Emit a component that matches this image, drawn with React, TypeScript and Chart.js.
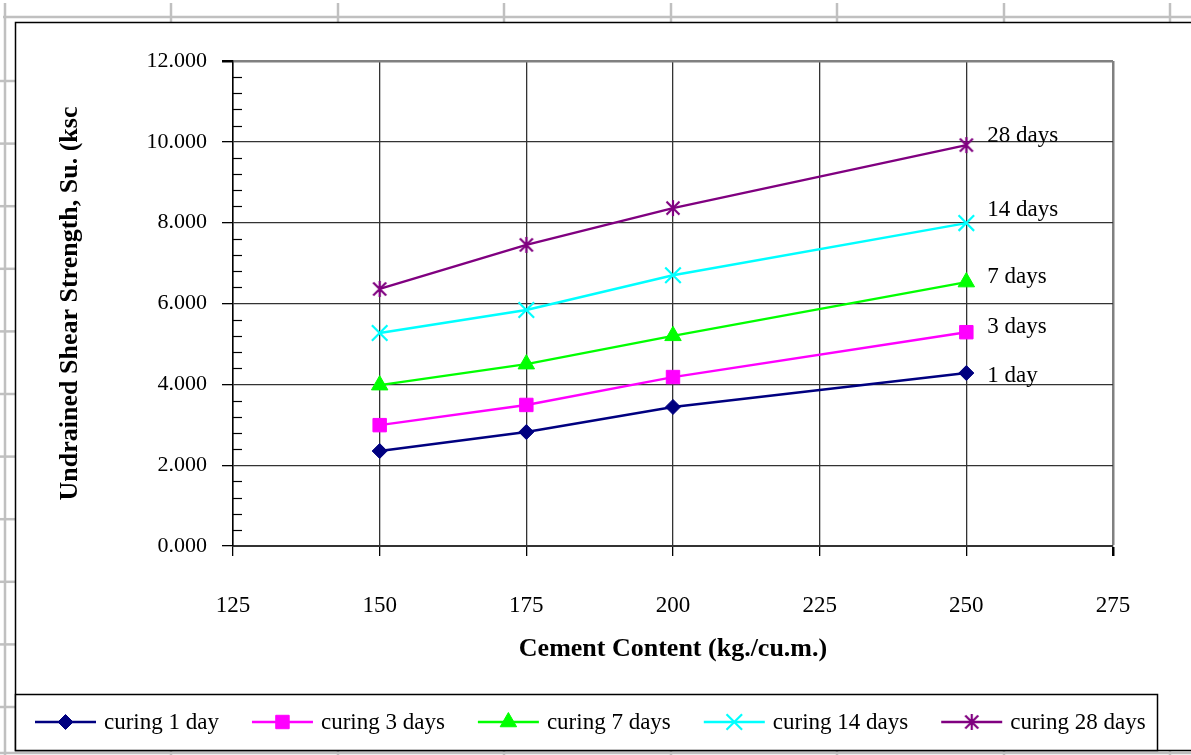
import React, { useEffect, useRef } from 'react';
import { Chart, registerables } from 'chart.js';
import { drawPoint } from 'chart.js/helpers';

Chart.register(...registerables);

// ---- data ----
const cementContent = [150, 175, 200, 250];
const curing1Day = [2.35, 2.82, 3.44, 4.28];
const curing3Days = [2.99, 3.49, 4.18, 5.29];
const curing7Days = [3.98, 4.5, 5.2, 6.53];
const curing14Days = [5.27, 5.84, 6.7, 7.99];
const curing28Days = [6.36, 7.45, 8.36, 9.92];
const seriesNames = ['curing 1 day', 'curing 3 days', 'curing 7 days', 'curing 14 days', 'curing 28 days'];
const endLabels = ['1 day', '3 days', '7 days', '14 days', '28 days'];
const xTickMin = 125;
const xTickMax = 275;
const xTickStep = 25;
const yTickMin = 0;
const yTickMax = 12;
const yTickStep = 2;
const yMinorStep = 0.4;
const xAxisTitle = 'Cement Content (kg./cu.m.)';
const yAxisTitle = 'Undrained Shear Strength, Su. (ksc';

const SERIF = '"Liberation Serif", "Times New Roman", serif';
const W = 1191;
const H = 755;

function makeAsterisk(color: string) {
  const c = document.createElement('canvas');
  c.width = 18;
  c.height = 18;
  const g = c.getContext('2d')!;
  g.strokeStyle = color;
  g.lineWidth = 2.2;
  g.beginPath();
  g.moveTo(2.5, 2.5); g.lineTo(15.5, 15.5);
  g.moveTo(15.5, 2.5); g.lineTo(2.5, 15.5);
  g.moveTo(9, 1); g.lineTo(9, 17);
  g.stroke();
  return c;
}

const endLabelOffsets = [3, -5, -5, -13, -9];

const sheetPlugin = {
  id: 'sheet',
  beforeDraw(chart: any) {
    const ctx = chart.ctx as CanvasRenderingContext2D;
    const line = (x1: number, y1: number, x2: number, y2: number) => {
      ctx.beginPath(); ctx.moveTo(x1, y1); ctx.lineTo(x2, y2); ctx.stroke();
    };
    ctx.save();
    ctx.fillStyle = '#ffffff';
    ctx.fillRect(0, 0, W, H);
    ctx.strokeStyle = '#c0c0c0';
    ctx.lineWidth = 2.5;
    line(3, 17, W, 17);
    line(5, 3, 5, H);
    [171, 338, 504, 671, 837, 1004, 1170].forEach((cx) => {
      line(cx, 3, cx, 22);
      line(cx, 750, cx, H);
    });
    for (let i = 0; i < 11; i++) {
      const ry = 81 + i * 62.6;
      line(0, ry, 15, ry);
    }
    line(0, 753, W, 753);
    ctx.fillStyle = '#ffffff';
    ctx.fillRect(15, 22, W, 728);
    ctx.strokeStyle = '#000000';
    ctx.lineWidth = 1.5;
    ctx.strokeRect(15.5, 22.5, W + 20, 728);
    ctx.restore();
  },
};

const overlayPlugin = {
  id: 'overlay',
  afterDraw(chart: any) {
    const ctx = chart.ctx as CanvasRenderingContext2D;
    const ys = chart.scales.y;
    const left = chart.chartArea.left;
    ctx.save();
    // minor ticks on y axis (inside)
    ctx.strokeStyle = '#000';
    ctx.lineWidth = 1.2;
    const nMinor = Math.round((yTickMax - yTickMin) / yMinorStep);
    for (let i = 1; i < nMinor; i++) {
      const v = yTickMin + i * yMinorStep;
      if (Math.abs(v / yTickStep - Math.round(v / yTickStep)) < 1e-6) continue;
      const py = Math.round(ys.getPixelForValue(v)) + 0.5;
      ctx.beginPath(); ctx.moveTo(left, py); ctx.lineTo(left + 9, py); ctx.stroke();
    }
    // end labels
    ctx.fillStyle = '#000';
    ctx.font = '23px ' + SERIF;
    ctx.textBaseline = 'middle';
    ctx.textAlign = 'left';
    chart.data.datasets.forEach((ds: any, i: number) => {
      const meta = chart.getDatasetMeta(i);
      const el = meta.data[meta.data.length - 1];
      ctx.fillText(endLabels[i], el.x + 21, el.y + endLabelOffsets[i]);
    });
    // legend box
    ctx.fillStyle = '#fff';
    ctx.fillRect(15.5, 694.5, 1142, 56);
    ctx.strokeStyle = '#000';
    ctx.lineWidth = 1.5;
    ctx.strokeRect(15.5, 694.5, 1142, 56);
    let x = 35;
    const ly = 722;
    chart.data.datasets.forEach((ds: any) => {
      ctx.strokeStyle = ds.borderColor;
      ctx.lineWidth = ds.borderWidth;
      ctx.beginPath(); ctx.moveTo(x, ly); ctx.lineTo(x + 61, ly); ctx.stroke();
      ctx.fillStyle = ds.pointBackgroundColor;
      ctx.strokeStyle = ds.pointBorderColor;
      ctx.lineWidth = ds.pointBorderWidth;
      drawPoint(ctx, { pointStyle: ds.pointStyle, radius: ds.pointRadius, rotation: 0, borderWidth: ds.pointBorderWidth }, x + 30.5, ly);
      ctx.fillStyle = '#000';
      ctx.font = '23px ' + SERIF;
      ctx.textBaseline = 'middle';
      ctx.textAlign = 'left';
      ctx.fillText(ds.label, x + 69, ly + 1);
      x = x + 69 + ctx.measureText(ds.label).width + 33;
    });
    ctx.restore();
  },
};

export default function App() {
  const ref = useRef<HTMLCanvasElement>(null);
  useEffect(() => {
    document.body.style.margin = '0';
    const toPts = (arr: number[]) => arr.map((v, i) => ({ x: cementContent[i], y: v }));
    const series = [curing1Day, curing3Days, curing7Days, curing14Days, curing28Days];
    const colors = ['#000080', '#FF00FF', '#00FF00', '#00FFFF', '#800080'];
    const styles: any[] = ['rectRot', 'rect', 'triangle', 'crossRot', makeAsterisk('#800080')];
    const radii = [7.5, 9.5, 9.5, 11, 9];
    const bws = [1, 1, 1, 2.2, 2];
    const chart = new Chart(ref.current!, {
      type: 'line',
      data: {
        datasets: series.map((s, i) => ({
          label: seriesNames[i],
          data: toPts(s),
          borderColor: colors[i],
          backgroundColor: colors[i],
          pointBackgroundColor: colors[i],
          pointBorderColor: colors[i],
          pointBorderWidth: bws[i],
          pointStyle: styles[i],
          pointRadius: radii[i],
          borderWidth: 2.4,
          tension: 0,
          fill: false,
        })),
      },
      options: {
        animation: false,
        responsive: false,
        maintainAspectRatio: false,
        layout: { padding: { left: 0, top: 61, right: 78, bottom: 0 } },
        plugins: { legend: { display: false }, tooltip: { enabled: false }, title: { display: false } },
        scales: {
          x: {
            type: 'linear',
            min: xTickMin,
            max: xTickMax,
            afterFit: (s: any) => { s.height = 209; },
            ticks: { stepSize: xTickStep, color: '#000', font: { family: SERIF, size: 23 }, padding: 36, maxRotation: 0 },
            grid: {
              color: (c: any) => (c.tick && c.tick.value === xTickMax ? '#808080' : '#333'),
              lineWidth: (c: any) => (c.tick && c.tick.value === xTickMax ? 2.5 : 1.3),
              tickColor: '#000',
              tickLength: 10,
            },
            border: { color: '#333', width: 2 },
            title: { display: true, text: xAxisTitle, color: '#000', font: { family: SERIF, size: 26, weight: 'bold' }, padding: { top: 0, bottom: 90 } },
          },
          y: {
            type: 'linear',
            min: yTickMin,
            max: yTickMax,
            afterFit: (s: any) => { s.width = 233; },
            ticks: { stepSize: yTickStep, color: '#000', font: { family: SERIF, size: 22 }, padding: 15, callback: (v: any) => Number(v).toFixed(3) },
            grid: {
              color: (c: any) => (c.tick && c.tick.value === yTickMax ? '#808080' : '#333'),
              lineWidth: (c: any) => (c.tick && c.tick.value === yTickMax ? 2.5 : 1.3),
              tickColor: '#000',
              tickLength: 11,
            },
            border: { color: '#000', width: 1.5 },
            title: { display: true, text: yAxisTitle, color: '#000', font: { family: SERIF, size: 26, weight: 'bold' }, padding: { top: 55, bottom: 0 } },
          },
        },
      },
      plugins: [sheetPlugin, overlayPlugin],
    } as any);
    return () => chart.destroy();
  }, []);
  return (
    <div style={{ position: 'fixed', left: 0, top: 0, width: W, height: H, background: '#fff' }}>
      <canvas ref={ref} width={W} height={H} style={{ display: 'block' }} />
    </div>
  );
}
